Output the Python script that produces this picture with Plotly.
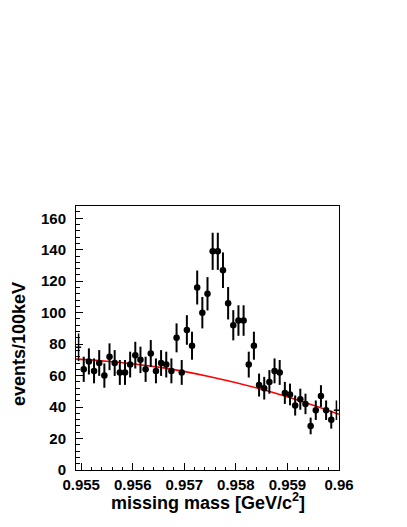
import plotly.graph_objects as go

# bin centres of the missing-mass histogram [GeV/c^2]
mass = [0.95495, 0.95505, 0.95515, 0.95525, 0.95535, 0.95545, 0.95555, 0.95565, 0.95575, 0.95585,
        0.95595, 0.95605, 0.95615, 0.95625, 0.95635, 0.95645, 0.95655, 0.95665, 0.95675, 0.95685,
        0.95695, 0.95705, 0.95715, 0.95725, 0.95735, 0.95745, 0.95755, 0.95765, 0.95775, 0.95785,
        0.95795, 0.95805, 0.95815, 0.95825, 0.95835, 0.95845, 0.95855, 0.95865, 0.95875, 0.95885,
        0.95895, 0.95905, 0.95915, 0.95925, 0.95935, 0.95945, 0.95955, 0.95965, 0.95975, 0.95985,
        0.95995]
counts = [78, 64, 69, 63, 68, 60, 72, 68, 62, 62,
          67, 73, 70, 64, 74, 63, 68, 67, 63, 84,
          62, 89, 79, 116, 100, 112, 139, 139, 127, 106,
          92, 95, 95, 67, 79, 54, 52, 56, 63, 62,
          49, 48, 41, 45, 42, 28, 38, 47, 38, 32,
          38]
errors = [8.8, 8.0, 8.3, 7.9, 8.2, 7.7, 8.5, 8.2, 7.9, 7.9,
          8.2, 8.5, 8.4, 8.0, 8.6, 7.9, 8.2, 8.2, 7.9, 9.2,
          7.9, 9.4, 8.9, 10.8, 10.0, 10.6, 11.8, 11.8, 11.3, 10.3,
          9.6, 9.7, 9.7, 8.2, 8.9, 7.3, 7.2, 7.5, 7.9, 7.9,
          7.0, 6.9, 6.4, 6.7, 6.5, 5.3, 6.2, 6.9, 6.2, 5.7,
          6.2]
half_bin = 0.00005

# background fit curve
fit_x = [0.9549, 0.9555, 0.9565, 0.9575, 0.9585, 0.9595, 0.9600]
fit_y = [70.5, 69.1, 65.4, 59.3, 51.3, 41.2, 35.4]

x_tickvals = [0.955, 0.956, 0.957, 0.958, 0.959, 0.960]
x_ticktext = ["0.955", "0.956", "0.957", "0.958", "0.959", "0.96"]
y_tickvals = [0, 20, 40, 60, 80, 100, 120, 140, 160]

inner_x = mass[1:-1]
inner_y = counts[1:-1]
inner_e = errors[1:-1]
edge_x = [mass[0], mass[-1]]
edge_y = [counts[0], counts[-1]]
edge_e = [errors[0], errors[-1]]

fig = go.Figure()
fig.add_trace(go.Scatter(
    x=fit_x, y=fit_y, mode="lines", line=dict(color="#ff0000", width=1.6, shape="spline"),
    hoverinfo="skip"))
fig.add_trace(go.Scatter(
    x=inner_x, y=inner_y, mode="markers",
    marker=dict(color="black", size=6.5),
    error_y=dict(type="data", array=inner_e, color="black", thickness=2, width=0),
    error_x=dict(type="constant", value=half_bin, color="black", thickness=1.5, width=0)))
fig.add_trace(go.Scatter(
    x=edge_x, y=edge_y, mode="markers",
    marker=dict(color="black", size=1, opacity=0),
    error_y=dict(type="data", array=edge_e, color="black", thickness=1.5, width=0),
    error_x=dict(type="constant", value=half_bin, color="black", thickness=1.5, width=0)))

font_family = "Liberation Sans, Arial, sans-serif"
# the page body adds an 8px offset, so the figure is drawn 8px smaller
fig.update_layout(
    width=399, height=519,
    margin=dict(l=67.5, r=67.5, t=197.7, b=57, autoexpand=False),
    paper_bgcolor="white", plot_bgcolor="white",
    showlegend=False,
    font=dict(family=font_family, color="black"),
    xaxis=dict(
        range=[0.9549, 0.9600], showgrid=False, zeroline=False, automargin=False,
        showline=True, linecolor="black", linewidth=1, mirror=True,
        ticks="inside", ticklen=7, tickcolor="black", tickwidth=1,
        tickvals=x_tickvals, ticktext=x_ticktext,
        tickfont=dict(size=15, family=font_family, weight="bold"),
        minor=dict(dtick=0.0002, tick0=0.955, ticks="inside", ticklen=3.5, tickcolor="black"),
        ticklabelstandoff=1,
    ),
    yaxis=dict(
        range=[0, 167.8], showgrid=False, zeroline=False, automargin=False,
        showline=True, linecolor="black", linewidth=1, mirror=True,
        ticks="inside", ticklen=7, tickcolor="black", tickwidth=1,
        tickvals=y_tickvals,
        tickfont=dict(size=15, family=font_family, weight="bold"),
        minor=dict(dtick=4, tick0=0, ticks="inside", ticklen=3.5, tickcolor="black"),
        ticklabelstandoff=6,
    ),
    annotations=[
        dict(text="missing mass [GeV/c<sup>2</sup>]", xref="paper", yref="paper",
             x=0.5, y=0, xanchor="center", yanchor="middle", yshift=-31.5, showarrow=False,
             font=dict(size=18, family=font_family, weight="bold")),
        dict(text="events/100keV", xref="paper", yref="paper", textangle=-90,
             x=0, y=0.5, xanchor="center", yanchor="middle", xshift=-57, yshift=-6,
             showarrow=False, font=dict(size=18, family=font_family, weight="bold")),
    ],
)

fig.write_html("out.html")
